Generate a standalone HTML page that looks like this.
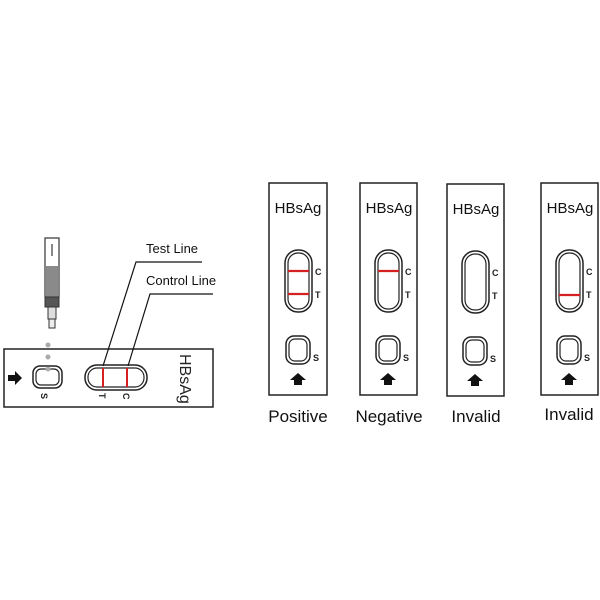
<!DOCTYPE html>
<html><head><meta charset="utf-8"><style>html,body{margin:0;padding:0;background:#fff}svg{display:block}</style></head>
<body>
<svg width="600" height="600" viewBox="0 0 600 600" xmlns="http://www.w3.org/2000/svg" font-family="Liberation Sans, Arial, sans-serif">
<rect width="600" height="600" fill="#fff"/>
<!-- left strip -->
<rect x="4" y="349" width="209" height="58" fill="#fff" stroke="#222" stroke-width="1.5"/>
<polygon points="8,375 15,375 15,371 22,378 15,385 15,381 8,381" fill="#111"/>
<rect x="33" y="366" width="29" height="22" rx="7" fill="none" stroke="#222" stroke-width="1.5"/>
<rect x="36" y="369" width="23" height="16" rx="5" fill="none" stroke="#222" stroke-width="1.2"/>
<rect x="85" y="365" width="62" height="25" rx="12" fill="none" stroke="#222" stroke-width="1.5"/>
<rect x="88" y="368" width="56" height="19" rx="9" fill="none" stroke="#222" stroke-width="1.2"/>
<line x1="103" y1="368" x2="103" y2="387" stroke="#d42020" stroke-width="2"/>
<line x1="127" y1="368" x2="127" y2="387" stroke="#d42020" stroke-width="2"/>
<text transform="translate(41,393) rotate(90)" font-size="9" font-weight="bold" fill="#222">S</text>
<text transform="translate(99,393) rotate(90)" font-size="9" font-weight="bold" fill="#222">T</text>
<text transform="translate(123,393) rotate(90)" font-size="9" font-weight="bold" fill="#222">C</text>
<text transform="translate(180,354) rotate(90)" font-size="16" fill="#222">HBsAg</text>
<!-- tube -->
<rect x="45" y="238" width="14" height="59" fill="#fff" stroke="#333" stroke-width="1.2"/>
<rect x="46" y="266" width="12" height="31" fill="#8a8a8a"/>
<line x1="52" y1="244" x2="52" y2="256" stroke="#888" stroke-width="2"/>
<rect x="45" y="297" width="14" height="10" fill="#555" stroke="#333" stroke-width="1"/>
<rect x="48" y="307" width="8" height="12" fill="#ddd" stroke="#333" stroke-width="1"/>
<rect x="49" y="319" width="6" height="9" fill="#eee" stroke="#333" stroke-width="1"/>
<circle cx="48" cy="345" r="2.5" fill="#aaa"/>
<circle cx="48" cy="357" r="2.5" fill="#aaa"/>
<circle cx="48" cy="369" r="2.5" fill="#aaa"/>
<!-- leader lines -->
<text x="146" y="253" font-size="13" fill="#111">Test Line</text>
<polyline points="202,262 136,262 103,366" fill="none" stroke="#111" stroke-width="1.2"/>
<text x="146" y="285" font-size="13" fill="#111">Control Line</text>
<polyline points="213,294 150,294 128,366" fill="none" stroke="#111" stroke-width="1.2"/>

<!-- cards -->
<g transform="translate(269,183)">
<rect x="0" y="0" width="58" height="212" fill="#fff" stroke="#222" stroke-width="1.5"/>
<text x="29" y="30" font-size="15" text-anchor="middle" fill="#111">HBsAg</text>
<rect x="16" y="67" width="27" height="62" rx="13" fill="none" stroke="#222" stroke-width="1.5"/>
<rect x="19" y="70" width="21" height="56" rx="10" fill="none" stroke="#222" stroke-width="1.2"/>
<line x1="19" y1="88" x2="40" y2="88" stroke="#d42020" stroke-width="2.2"/>
<line x1="19" y1="111" x2="40" y2="111" stroke="#d42020" stroke-width="2.2"/>
<text x="46" y="92" font-size="9" font-weight="bold" fill="#222">C</text>
<text x="46" y="115" font-size="9" font-weight="bold" fill="#222">T</text>
<rect x="17" y="153" width="24" height="28" rx="8" fill="none" stroke="#222" stroke-width="1.5"/>
<rect x="20" y="156" width="18" height="22" rx="6" fill="none" stroke="#222" stroke-width="1.2"/>
<text x="44" y="178" font-size="9" font-weight="bold" fill="#222">S</text>
<polygon points="29,190 37,197 33,197 33,202 25,202 25,197 21,197" fill="#111"/>
</g>
<text x="298" y="422" font-size="17" text-anchor="middle" fill="#111">Positive</text>

<g transform="translate(360,183)">
<rect x="0" y="0" width="57" height="212" fill="#fff" stroke="#222" stroke-width="1.5"/>
<text x="29" y="30" font-size="15" text-anchor="middle" fill="#111">HBsAg</text>
<rect x="15" y="67" width="27" height="62" rx="13" fill="none" stroke="#222" stroke-width="1.5"/>
<rect x="18" y="70" width="21" height="56" rx="10" fill="none" stroke="#222" stroke-width="1.2"/>
<line x1="18" y1="88" x2="39" y2="88" stroke="#d42020" stroke-width="2.2"/>
<text x="45" y="92" font-size="9" font-weight="bold" fill="#222">C</text>
<text x="45" y="115" font-size="9" font-weight="bold" fill="#222">T</text>
<rect x="16" y="153" width="24" height="28" rx="8" fill="none" stroke="#222" stroke-width="1.5"/>
<rect x="19" y="156" width="18" height="22" rx="6" fill="none" stroke="#222" stroke-width="1.2"/>
<text x="43" y="178" font-size="9" font-weight="bold" fill="#222">S</text>
<polygon points="28,190 36,197 32,197 32,202 24,202 24,197 20,197" fill="#111"/>
</g>
<text x="389" y="422" font-size="17" text-anchor="middle" fill="#111">Negative</text>

<g transform="translate(447,184)">
<rect x="0" y="0" width="57" height="212" fill="#fff" stroke="#222" stroke-width="1.5"/>
<text x="29" y="30" font-size="15" text-anchor="middle" fill="#111">HBsAg</text>
<rect x="15" y="67" width="27" height="62" rx="13" fill="none" stroke="#222" stroke-width="1.5"/>
<rect x="18" y="70" width="21" height="56" rx="10" fill="none" stroke="#222" stroke-width="1.2"/>
<text x="45" y="92" font-size="9" font-weight="bold" fill="#222">C</text>
<text x="45" y="115" font-size="9" font-weight="bold" fill="#222">T</text>
<rect x="16" y="153" width="24" height="28" rx="8" fill="none" stroke="#222" stroke-width="1.5"/>
<rect x="19" y="156" width="18" height="22" rx="6" fill="none" stroke="#222" stroke-width="1.2"/>
<text x="43" y="178" font-size="9" font-weight="bold" fill="#222">S</text>
<polygon points="28,190 36,197 32,197 32,202 24,202 24,197 20,197" fill="#111"/>
</g>
<text x="476" y="422" font-size="17" text-anchor="middle" fill="#111">Invalid</text>

<g transform="translate(541,183)">
<rect x="0" y="0" width="57" height="212" fill="#fff" stroke="#222" stroke-width="1.5"/>
<text x="29" y="30" font-size="15" text-anchor="middle" fill="#111">HBsAg</text>
<rect x="15" y="67" width="27" height="62" rx="13" fill="none" stroke="#222" stroke-width="1.5"/>
<rect x="18" y="70" width="21" height="56" rx="10" fill="none" stroke="#222" stroke-width="1.2"/>
<line x1="18" y1="112" x2="39" y2="112" stroke="#d42020" stroke-width="2.2"/>
<text x="45" y="92" font-size="9" font-weight="bold" fill="#222">C</text>
<text x="45" y="115" font-size="9" font-weight="bold" fill="#222">T</text>
<rect x="16" y="153" width="24" height="28" rx="8" fill="none" stroke="#222" stroke-width="1.5"/>
<rect x="19" y="156" width="18" height="22" rx="6" fill="none" stroke="#222" stroke-width="1.2"/>
<text x="43" y="178" font-size="9" font-weight="bold" fill="#222">S</text>
<polygon points="28,190 36,197 32,197 32,202 24,202 24,197 20,197" fill="#111"/>
</g>
<text x="569" y="420" font-size="17" text-anchor="middle" fill="#111">Invalid</text>
</svg>
</body></html>
